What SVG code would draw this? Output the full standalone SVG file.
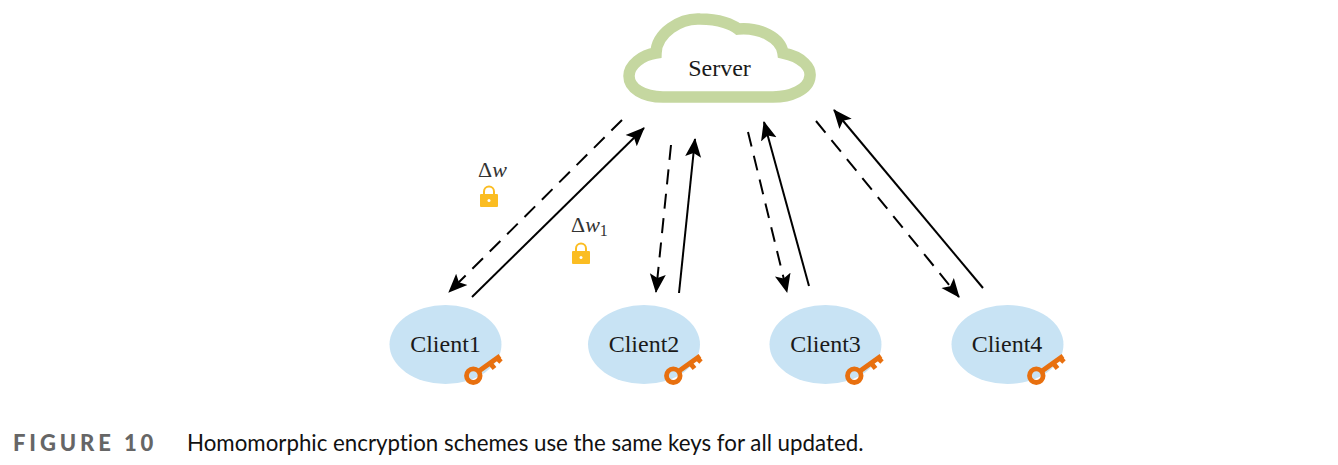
<svg xmlns="http://www.w3.org/2000/svg" width="1338" height="465" viewBox="0 0 1338 465">
<style>
.t{font-family:"Liberation Serif","Times New Roman",serif;font-size:24px;fill:#1a1a1a;text-anchor:middle}
.d{font-family:"Liberation Serif",serif;font-size:22px;fill:#333}
.ell{fill:#c8e3f4}
.key{fill:none;stroke:#e8700f;stroke-width:4.800}
.c{stroke:#000;stroke-width:2;fill:none}
.da{stroke-dasharray:15 9.500}
.lock{fill:#fbbd22}
.sh{fill:none;stroke:#fbbd22;stroke-width:2}
</style>
<defs>
<marker id="a" markerUnits="userSpaceOnUse" markerWidth="20" markerHeight="18" refX="18" refY="9" orient="auto"><path d="M0 1L19 9L0 17L4 9Z" fill="#000"/></marker>
<g id="k"><circle cx="9.300" cy="23.700" r="6.800" class="key"/><path d="M15 19L36 4M26 11L30.500 16.500M33 6L37 10" class="key"/></g>
<g id="l"><path d="M4 8V5.500a5 5 0 0 1 10 0V8" class="sh"/><rect x="0" y="8" width="18" height="13" rx="1" class="lock"/><circle cx="9" cy="14.500" r="1.500" fill="#fff"/></g>
</defs>
<rect width="1338" height="465" fill="#fff"/>
<g id="connectors">
<path class="c da" marker-end="url(#a)" d="M622 120L449 292"/>
<path class="c" marker-end="url(#a)" d="M472 297L644 128"/>
<path class="c da" marker-end="url(#a)" d="M671 145L656 292"/>
<path class="c" marker-end="url(#a)" d="M679 293L695 139"/>
<path class="c da" marker-end="url(#a)" d="M748 132L787 292"/>
<path class="c" marker-end="url(#a)" d="M809 286L764 122"/>
<path class="c da" marker-end="url(#a)" d="M816 121L959 297"/>
<path class="c" marker-end="url(#a)" d="M983 288L834 110"/>
</g>
<g id="server">
<path d="M656 53C656.700 33 680 18 700 19C720 19 733 25 738 29C760 27 781 38 783 53C803 57 811 68 810 76C809 90 790 97 773 97H663C643 97 629 88 629 76C629 65 642 55 656 53Z" fill="#fff" stroke="#c5d7a0" stroke-width="11.500"/>
<text class="t" x="719.500" y="76">Server</text>
</g>
<g id="client1"><ellipse class="ell" cx="445.500" cy="344.500" rx="56" ry="39.500"/><text class="t" x="445.500" y="352">Client1</text><use href="#k" x="464" y="352"/></g>
<g id="client2"><ellipse class="ell" cx="644" cy="344.500" rx="56" ry="39.500"/><text class="t" x="644" y="352">Client2</text><use href="#k" x="664" y="352"/></g>
<g id="client3"><ellipse class="ell" cx="825.500" cy="344.500" rx="56" ry="39.500"/><text class="t" x="825.500" y="352">Client3</text><use href="#k" x="845" y="352"/></g>
<g id="client4"><ellipse class="ell" cx="1007.500" cy="344.500" rx="56" ry="39.500"/><text class="t" x="1007" y="352">Client4</text><use href="#k" x="1027" y="352"/></g>
<g id="label-w"><text class="d" x="478" y="177">Δ<tspan font-style="italic">w</tspan></text><use href="#l" x="480" y="186"/></g>
<g id="label-w1"><text class="d" x="571" y="232">Δ<tspan font-style="italic">w</tspan><tspan font-size="16" dy="4">1</tspan></text><use href="#l" x="572" y="243"/></g>
<text x="13" y="450.500" font-family="Lato,sans-serif" font-weight="900" font-size="22" letter-spacing="3.900" fill="#666">FIGURE 10</text>
<text x="187" y="451" font-family="Lato,sans-serif" font-size="22.300" fill="#111" style="font-variant-ligatures:none">Homomorphic encryption schemes use the same keys for all updated.</text>
</svg>
